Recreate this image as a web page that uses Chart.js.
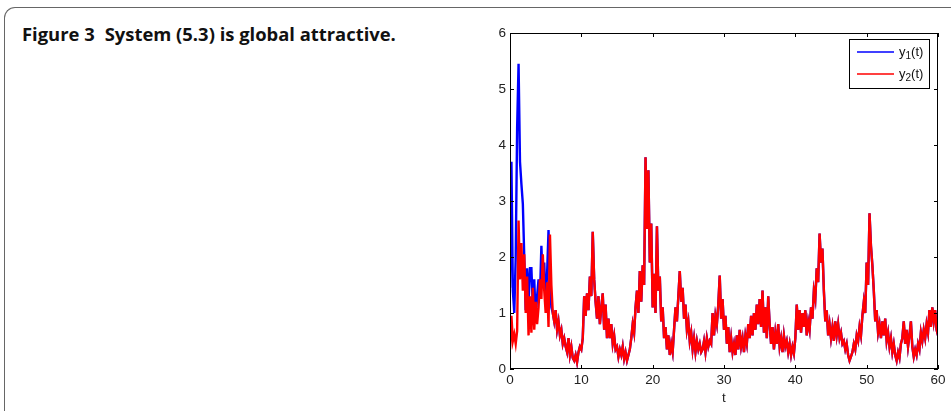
<!DOCTYPE html>
<html>
<head>
<meta charset="utf-8">
<script src="https://cdn.jsdelivr.net/npm/chart.js@4.4.1/dist/chart.umd.min.js"></script>
<style>
  html, body { margin: 0; padding: 0; background: #fff; }
  body { width: 951px; height: 411px; position: relative; overflow: hidden; }
  #frame {
    position: absolute; left: 4px; top: 7px; width: 970px; height: 430px;
    border-left: 1.5px solid #666; border-top: 1.5px solid #666;
    border-top-left-radius: 11px;
  }
  #caption {
    position: absolute; left: 22px; top: 22px;
    font-family: "Open Sans", sans-serif; font-weight: 700; font-size: 18.4px;
    line-height: 24px; color: #111; white-space: nowrap;
  }
  #caption .fig { margin-right: 10px; }
  #wrap { position: absolute; left: 470px; top: 20px; width: 481px; height: 391px; }
</style>
</head>
<body>
<div id="frame"></div>
<div id="caption"><span class="fig">Figure 3</span>System (5.3) is global attractive.</div>
<div id="wrap"><canvas id="chart" width="481" height="391"></canvas></div>
<script>
// sampled every 0.2 time units, t = 0 .. 60
const y2 = [
    0.35, 0.95, 0.50, 0.62, 0.45,
    0.68, 2.65, 1.60, 2.25, 1.40,
    2.05, 1.00, 1.65, 0.60, 1.30,
    0.65, 1.45, 0.70, 1.20, 0.80,
    1.10, 1.60, 1.25, 2.05, 1.40,
    1.00, 1.55, 0.75, 2.40, 1.50,
    1.00, 0.85, 1.05, 0.70, 0.85,
    0.60, 0.70, 0.45, 0.55, 0.40,
    0.30, 0.55, 0.25, 0.40, 0.20,
    0.15, 0.25, 0.12, 0.30, 0.40,
    0.35, 0.55, 1.30, 0.95, 1.35,
    1.05, 1.65, 1.30, 2.45, 1.60,
    1.20, 0.90, 1.30, 0.80, 1.10,
    1.35, 0.70, 1.15, 0.55, 0.90,
    0.55, 0.80, 0.45, 0.60, 0.35,
    0.40, 0.22, 0.35, 0.25, 0.40,
    0.18, 0.30, 0.15, 0.25, 0.35,
    0.55, 0.80, 0.65, 1.10, 1.40,
    1.00, 1.75, 1.20, 1.85, 1.50,
    3.78, 2.50, 3.55, 1.90, 2.60,
    1.10, 1.70, 1.00, 2.55, 1.40,
    1.65, 0.85, 1.10, 0.55, 0.75,
    0.35, 0.60, 0.25, 0.45, 0.30,
    0.70, 1.10, 0.85, 1.30, 1.75,
    1.20, 1.45, 0.90, 1.15, 0.70,
    0.85, 0.50, 0.65, 0.35, 0.55,
    0.30, 0.50, 0.35, 0.45, 0.30,
    0.35, 0.50, 0.30, 0.55, 0.40,
    0.50, 0.45, 1.00, 0.60, 0.95,
    0.80, 1.15, 1.67, 0.90, 1.25,
    0.70, 0.95, 0.45, 0.75, 0.30,
    0.55, 0.30, 0.45, 0.25, 0.60,
    0.35, 0.70, 0.40, 0.55, 0.30,
    0.60, 0.45, 0.80, 0.55, 0.95,
    0.60, 1.00, 0.70, 1.15, 0.80,
    1.25, 0.75, 1.40, 0.65, 1.10,
    0.55, 1.30, 0.80, 0.45, 0.75,
    0.35, 0.65, 0.45, 0.80, 0.40,
    0.55, 0.30, 0.60, 0.40, 0.50,
    0.30, 0.45, 0.25, 0.40, 0.28,
    0.55, 1.15, 0.70, 1.05, 0.65,
    1.00, 0.75, 1.05, 0.60, 0.85,
    0.70, 1.10, 0.90, 1.40, 1.25,
    1.80, 1.55, 2.42, 1.90, 2.15,
    1.40, 0.85, 1.05, 0.60, 0.80,
    0.55, 0.75, 0.50, 0.85, 0.60,
    0.80, 0.55, 0.65, 0.45, 0.50,
    0.35, 0.45, 0.25, 0.15, 0.22,
    0.30, 0.45, 0.35, 0.60, 0.50,
    0.75, 0.60, 0.95, 1.20, 1.00,
    1.90, 1.50, 2.78, 2.20, 1.85,
    1.40, 0.85, 1.05, 0.65, 0.80,
    0.55, 0.85, 0.60, 0.90, 0.50,
    0.65, 0.40, 0.55, 0.30, 0.45,
    0.25, 0.15, 0.30, 0.20, 0.45,
    0.55, 0.85, 0.45, 0.70, 0.40,
    0.60, 0.85, 0.40, 0.22, 0.35,
    0.25, 0.45, 0.35, 0.65, 0.50,
    0.70, 0.55, 0.80, 0.65, 1.05,
    0.75, 1.10, 0.85, 1.05, 0.70,
    0.60
];

// y1 only differs from y2 during the first few time units
const y1Early = [
    1.45, 3.70, 1.40, 1.00, 2.00,
    4.30, 5.45, 3.70, 3.30, 2.95,
    2.00, 1.05, 1.80, 1.15, 1.80,
    1.80, 1.10, 1.60, 0.90, 1.30,
    1.60, 1.30, 2.20, 1.50, 1.90,
    1.20, 1.70, 2.48, 1.60, 1.10
];
const y1 = y1Early.concat(y2.slice(y1Early.length));

const tStep = 0.2;
const times = y2.map((_, i) => +(i * tStep).toFixed(1));

const xTicks = [0, 10, 20, 30, 40, 50, 60];
const yTicks = [0, 1, 2, 3, 4, 5, 6];
const seriesNames = ['1', '2'];   // subscripts of y_i(t)
const seriesColors = ['#0000ff', '#ff0000'];

const toPoints = arr => arr.map((v, i) => ({ x: times[i], y: v }));

// matlab style box: frame, inward ticks and legend
const boxPlugin = {
    id: 'box',
    afterDraw(chart) {
        const { ctx, chartArea: a, scales } = chart;
        ctx.save();
        ctx.strokeStyle = '#000';
        ctx.lineWidth = 1;
        ctx.strokeRect(a.left + 0.5, a.top + 0.5, a.right - a.left - 1, a.bottom - a.top - 1);
        const tl = 4;
        ctx.beginPath();
        xTicks.forEach(v => {
            const px = Math.round(scales.x.getPixelForValue(v)) + 0.5;
            ctx.moveTo(px, a.bottom); ctx.lineTo(px, a.bottom - tl);
            ctx.moveTo(px, a.top); ctx.lineTo(px, a.top + tl);
        });
        yTicks.forEach(v => {
            const py = Math.round(scales.y.getPixelForValue(v)) + 0.5;
            ctx.moveTo(a.left, py); ctx.lineTo(a.left + tl, py);
            ctx.moveTo(a.right, py); ctx.lineTo(a.right - tl, py);
        });
        ctx.stroke();

        // legend
        const bx = a.right - 89, by = a.top + 6, bw = 80, bh = 49;
        ctx.fillStyle = '#fff';
        ctx.fillRect(bx, by, bw, bh);
        ctx.strokeRect(bx + 0.5, by + 0.5, bw, bh);
        seriesNames.forEach((s, i) => {
            const ly = by + 13 + i * 22;
            ctx.strokeStyle = seriesColors[i];
            ctx.lineWidth = 1.5;
            ctx.beginPath();
            ctx.moveTo(bx + 8, ly); ctx.lineTo(bx + 45, ly);
            ctx.stroke();
            ctx.fillStyle = '#111';
            ctx.textBaseline = 'alphabetic';
            ctx.font = '13px "Liberation Sans", Arial, sans-serif';
            let tx = bx + 50;
            ctx.fillText('y', tx, ly + 4);
            tx += ctx.measureText('y').width;
            ctx.font = '10px "Liberation Sans", Arial, sans-serif';
            ctx.fillText(s, tx, ly + 7);
            tx += ctx.measureText(s).width;
            ctx.font = '13px "Liberation Sans", Arial, sans-serif';
            ctx.fillText('(t)', tx, ly + 4);
        });
        ctx.restore();
    }
};

const tickFont = { family: '"Liberation Sans", Arial, sans-serif', size: 13.5 };

new Chart(document.getElementById('chart'), {
    type: 'line',
    data: {
        datasets: [
            {
                label: 'y1(t)',
                data: toPoints(y1),
                borderColor: seriesColors[0],
                borderWidth: 2.4,
                pointRadius: 0,
                tension: 0,
                order: 1
            },
            {
                label: 'y2(t)',
                data: toPoints(y2),
                borderColor: seriesColors[1],
                borderWidth: 2.4,
                pointRadius: 0,
                tension: 0,
                order: 0   // red drawn on top
            }
        ]
    },
    options: {
        responsive: false,
        animation: false,
        devicePixelRatio: 1,
        layout: { padding: { top: 13, right: 13, left: 0, bottom: 0 } },
        plugins: { legend: { display: false }, tooltip: { enabled: false } },
        scales: {
            x: {
                type: 'linear',
                min: 0, max: 60,
                afterBuildTicks: s => { s.ticks = xTicks.map(v => ({ value: v })); },
                afterFit: s => { s.height = 42; },
                grid: { display: false, drawTicks: false },
                border: { display: false },
                ticks: { font: tickFont, color: '#222', padding: 3, maxRotation: 0 },
                title: { display: true, text: 't', font: tickFont, color: '#222', padding: { top: 0, bottom: 5 } }
            },
            y: {
                min: 0, max: 6,
                afterBuildTicks: s => { s.ticks = yTicks.map(v => ({ value: v })); },
                afterFit: s => { s.width = 40; },
                grid: { display: false, drawTicks: false },
                border: { display: false },
                ticks: { font: tickFont, color: '#222', padding: 4 }
            }
        }
    },
    plugins: [boxPlugin]
});
</script>
</body>
</html>
